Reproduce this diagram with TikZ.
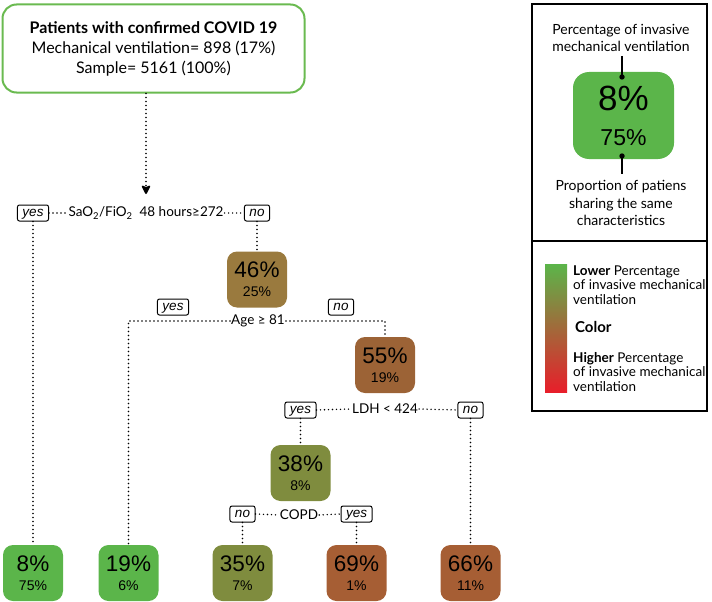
\documentclass[tikz,border=0pt]{standalone}
\usepackage{fontspec}
\setmainfont{Lato}
\newfontfamily\arialf{Liberation Sans}
\usetikzlibrary{arrows.meta,calc}
\definecolor{gbox}{RGB}{91,181,74}
\definecolor{gline}{RGB}{106,186,80}
\definecolor{olivebox}{RGB}{127,140,62}
\definecolor{brownA}{RGB}{154,122,62}
\definecolor{brownB}{RGB}{156,99,54}
\definecolor{rustbox}{RGB}{166,94,52}
\definecolor{gradmid}{RGB}{152,110,62}
\definecolor{gradred}{RGB}{232,30,42}
\newcommand\pctpair[2]{{\fontsize{22.5}{22.5}\selectfont #1}\\{\fontsize{14}{14}\selectfont #2}}
\begin{document}
\begin{tikzpicture}[x=1pt,y=-1pt,
  dots/.style={line width=1.6pt,line cap=round,dash pattern=on 0pt off 4pt},
  pbox/.style={rounded corners=10pt,minimum width=60pt,minimum height=56pt,inner sep=0pt,
    align=center,font=\arialf\fontsize{14}{19}\selectfont},
  yn/.style={draw,line width=1pt,rounded corners=2pt,inner xsep=5pt,inner ysep=0pt,
    minimum height=16pt,text height=9pt,text depth=2pt,font=\arialf\itshape\fontsize{13.5}{13.5}\selectfont},
  cond/.style={inner sep=1pt,font=\fontsize{13.5}{15}\selectfont},
  legtxt/.style={align=center,inner sep=0pt,font=\fontsize{14}{17.5}\selectfont},
  keytxt/.style={align=left,inner sep=0pt,anchor=west,font=\fontsize{13.5}{14.5}\selectfont}
]
\useasboundingbox (0,0) rectangle (712,602);
% top box
\node[draw=gline,line width=2pt,rounded corners=14pt,minimum width=302pt,minimum height=88pt,
  align=center,font=\fontsize{16}{20}\selectfont] (top) at (153.5,48.5)
  {\textbf{Patients with confirmed COVID 19}\\Mechanical ventilation= 898 (17\%)\\Sample= 5161 (100\%)};
% row 1
\node[cond] (sao) at (146,213) {SaO\textsubscript{2}/FiO\textsubscript{2}\ \ 48 hours≥272};
\node[yn] (yes1) at (33,213) {yes};
\node[yn] (no1) at (257,213) {no};
\coordinate (tip) at (146,194);
\draw[dots,-{Stealth[width=10pt,length=10pt,inset=2pt,round]}] (top.south -| tip) -- (tip);
% node boxes
\node[pbox,fill=brownA] (n46) at (257,279.5) {\pctpair{46\%}{25\%}};
\node[pbox,fill=brownB] (n55) at (385,365) {\pctpair{55\%}{19\%}};
\node[pbox,fill=olivebox] (n38) at (300.5,473) {\pctpair{38\%}{8\%}};
\node[pbox,fill=gbox] (b8) at (33,573) {\pctpair{8\%}{75\%}};
\node[pbox,fill=gbox] (b19) at (128.5,573) {\pctpair{19\%}{6\%}};
\node[pbox,fill=olivebox] (b35) at (242.5,573) {\pctpair{35\%}{7\%}};
\node[pbox,fill=rustbox] (b69) at (356.5,573) {\pctpair{69\%}{1\%}};
\node[pbox,fill=rustbox] (b66) at (470.5,573) {\pctpair{66\%}{11\%}};
\draw[dots] (yes1.east) -- (sao.west);
\draw[dots] (sao.east) -- (no1.west);
\draw[dots] (yes1.south) -- (b8.north);
\draw[dots] (no1.south) -- (n46.north);
% row 2
\node[cond] (age) at (258,321) {Age ≥ 81};
\node[yn] (yes2) at (173,307) {yes};
\node[yn] (no2) at (341,307) {no};
\draw[dots] (age.west) -- (age.west -| b19.north) -- (b19.north);
\draw[dots] (age.east) -- (age.east -| n55.north) -- (n55.north);
% row 3
\node[cond] (ldh) at (385,409) {LDH < 424};
\node[yn] (yes3) at (300.5,410) {yes};
\node[yn] (no3) at (470.5,410) {no};
\draw[dots] (yes3.east) -- (ldh.west);
\draw[dots] (ldh.east) -- (no3.west);
\draw[dots] (yes3.south) -- (n38.north);
\draw[dots] (no3.south) -- (b66.north);
% row 4
\node[cond] (copd) at (299,515) {COPD};
\node[yn] (no4) at (242.5,514) {no};
\node[yn] (yes4) at (356.5,514) {yes};
\draw[dots] (no4.east) -- (copd.west);
\draw[dots] (copd.east) -- (yes4.west);
\draw[dots] (no4.south) -- (b35.north);
\draw[dots] (yes4.south) -- (b69.north);
% legend
\draw[line width=1.5pt] (532,4) rectangle (707,411);
\draw[line width=1.5pt] (532,241) -- (707,241);
\node[legtxt] (leg1) at (621,38) {Percentage of invasive\\mechanical ventilation};
\node[rounded corners=16pt,fill=gbox,minimum width=101pt,minimum height=87pt,inner sep=0pt,
  align=center,font=\arialf\fontsize{23}{35}\selectfont] (legbox) at (623.5,115.5)
  {{\fontsize{35}{35}\selectfont 8\%}\\75\%};
\node[legtxt] (leg2) at (621,203) {Proportion of patiens\\sharing the same\\characteristics};
\coordinate (d1) at (622,77);
\coordinate (d2) at (622,156);
\draw[line width=1.5pt] (622,56) -- (d1);
\fill (d1) circle (2.7pt);
\draw[line width=1.5pt] (d2) -- (622,174);
\fill (d2) circle (2.7pt);
\shade[top color=gbox,middle color=gradmid,bottom color=gradred] (545,264) rectangle (567,392);
\node[keytxt] (lower) at (573,285) {\textbf{Lower} Percentage\\of invasive mechanical\\ventilation};
\node[keytxt,font=\bfseries\fontsize{15}{15}\selectfont] (colorlbl) at (575,326.5) {Color};
\node[keytxt] (higher) at (573,372) {\textbf{Higher} Percentage\\of invasive mechanical\\ventilation};
\end{tikzpicture}
\end{document}
